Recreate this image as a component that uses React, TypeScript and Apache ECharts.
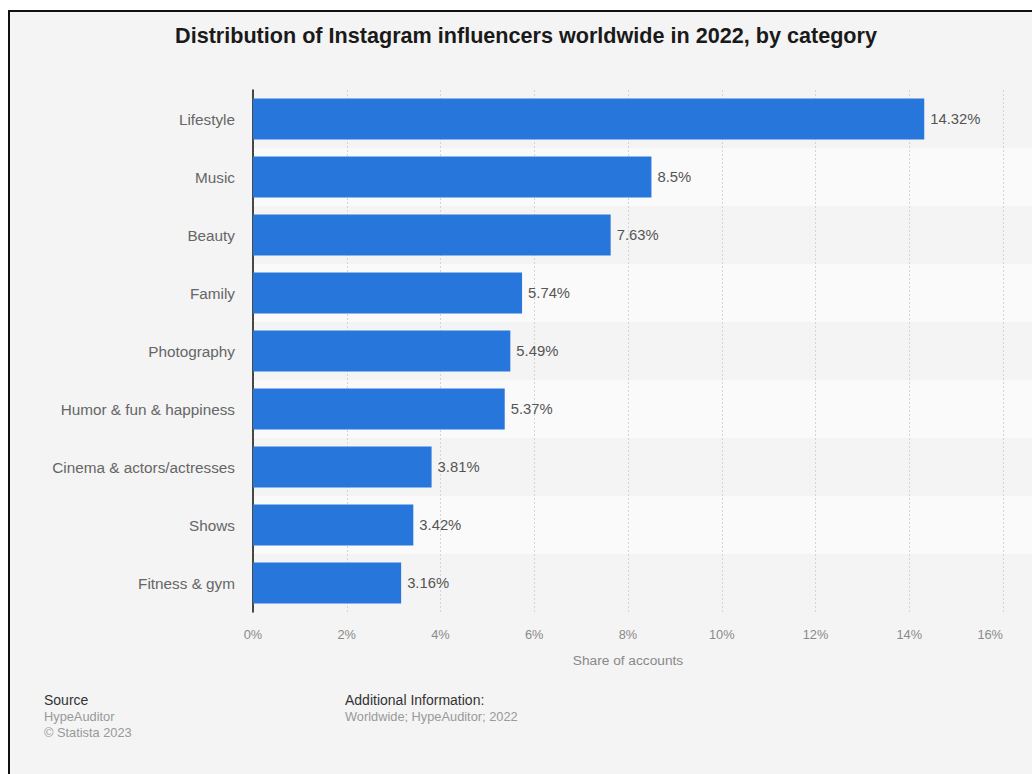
import React, { useEffect, useRef } from "react";
import * as echarts from "echarts";

const categories = [
  "Lifestyle",
  "Music",
  "Beauty",
  "Family",
  "Photography",
  "Humor & fun & happiness",
  "Cinema & actors/actresses",
  "Shows",
  "Fitness & gym",
];
const shares = [14.32, 8.5, 7.63, 5.74, 5.49, 5.37, 3.81, 3.42, 3.16];
const xTicks = { min: 0, max: 16, interval: 2 };
const titleText = "Distribution of Instagram influencers worldwide in 2022, by category";
const axisName = "Share of accounts";
const sourceLines = ["HypeAuditor", "© Statista 2023"];
const infoLines = ["Worldwide; HypeAuditor; 2022"];

const FONT = "'Liberation Sans', Arial, Helvetica, sans-serif";

export default function App() {
  const ref = useRef<HTMLDivElement>(null);
  useEffect(() => {
    if (!ref.current) return;
    const chart = echarts.init(ref.current, undefined, { renderer: "svg" });
    const gridTop = 78;
    const gridBottom = 162;
    const gridLeft = 243;
    chart.setOption({
      animation: false,
      backgroundColor: "#f4f4f4",
      textStyle: { fontFamily: FONT },
      grid: [
        { left: gridLeft, right: 29, top: gridTop, bottom: gridBottom, containLabel: false },
        { left: gridLeft, right: 0, top: gridTop, bottom: gridBottom, containLabel: false },
      ],
      xAxis: [
        {
          type: "value",
          gridIndex: 0,
          min: xTicks.min,
          max: xTicks.max,
          interval: xTicks.interval,
          axisLine: { show: false },
          axisTick: { show: false },
          axisLabel: {
            formatter: (v: number) => `${v}%`,
            color: "#8a8a8a",
            fontSize: 12.8,
            margin: 16,
            fontFamily: FONT,
            alignMaxLabel: "right",
          },
          splitLine: {
            show: true,
            lineStyle: { color: "#d4d4d4", type: [2, 2], width: 1 },
          },
          name: axisName,
          nameLocation: "middle",
          nameGap: 41,
          nameTextStyle: { color: "#888", fontSize: 13.7, fontFamily: FONT },
          z: 3,
        },
        {
          type: "value",
          gridIndex: 1,
          show: false,
        },
      ],
      yAxis: [
        {
          type: "category",
          gridIndex: 0,
          data: categories,
          inverse: true,
          axisLine: { show: true, lineStyle: { color: "#111", width: 1.5 } },
          axisTick: { show: false },
          axisLabel: {
            color: "#666",
            fontSize: 15.3,
            margin: 18,
            fontFamily: FONT,
          },
          splitLine: { show: false },
          z: 4,
        },
        {
          type: "category",
          gridIndex: 1,
          data: categories,
          inverse: true,
          axisLine: { show: false },
          axisTick: { show: false },
          axisLabel: { show: false },
          splitArea: {
            show: true,
            areaStyle: { color: ["#f4f4f4", "#fafafa"] },
          },
          z: 0,
        },
      ],
      series: [
        {
          type: "bar",
          xAxisIndex: 0,
          yAxisIndex: 0,
          data: shares,
          barWidth: "71%",
          itemStyle: { color: "#2776dc" },
          label: {
            show: true,
            position: "right",
            distance: 6,
            formatter: (p: any) => `${p.value}%`,
            color: "#555",
            fontSize: 14.8,
            fontFamily: FONT,
          },
          z: 5,
        },
      ],
      graphic: [
        {
          type: "text",
          x: 516,
          y: 23,
          style: {
            text: titleText,
            fill: "#1a1a1a",
            font: `bold 21.6px ${FONT}`,
            align: "center",
            verticalAlign: "middle",
          },
        },
        {
          type: "text",
          x: 34,
          y: 688,
          style: { text: "Source", fill: "#333", font: `14px ${FONT}`, verticalAlign: "middle" },
        },
        {
          type: "text",
          x: 34,
          y: 704,
          style: { text: sourceLines[0], fill: "#999", font: `12.8px ${FONT}`, verticalAlign: "middle" },
        },
        {
          type: "text",
          x: 34,
          y: 720,
          style: { text: sourceLines[1], fill: "#999", font: `12.8px ${FONT}`, verticalAlign: "middle" },
        },
        {
          type: "text",
          x: 335,
          y: 688,
          style: { text: "Additional Information:", fill: "#333", font: `14px ${FONT}`, verticalAlign: "middle" },
        },
        {
          type: "text",
          x: 335,
          y: 704,
          style: { text: infoLines[0], fill: "#999", font: `12.8px ${FONT}`, verticalAlign: "middle" },
        },
      ],
    });
    return () => chart.dispose();
  }, []);
  return (
    <div
      style={{
        position: "fixed",
        left: 8,
        top: 10,
        width: 1024,
        height: 764,
        borderTop: "2px solid #111",
        borderLeft: "2px solid #111",
        background: "#f4f4f4",
        boxSizing: "border-box",
      }}
    >
      <div ref={ref} style={{ width: 1022, height: 762 }} />
    </div>
  );
}
